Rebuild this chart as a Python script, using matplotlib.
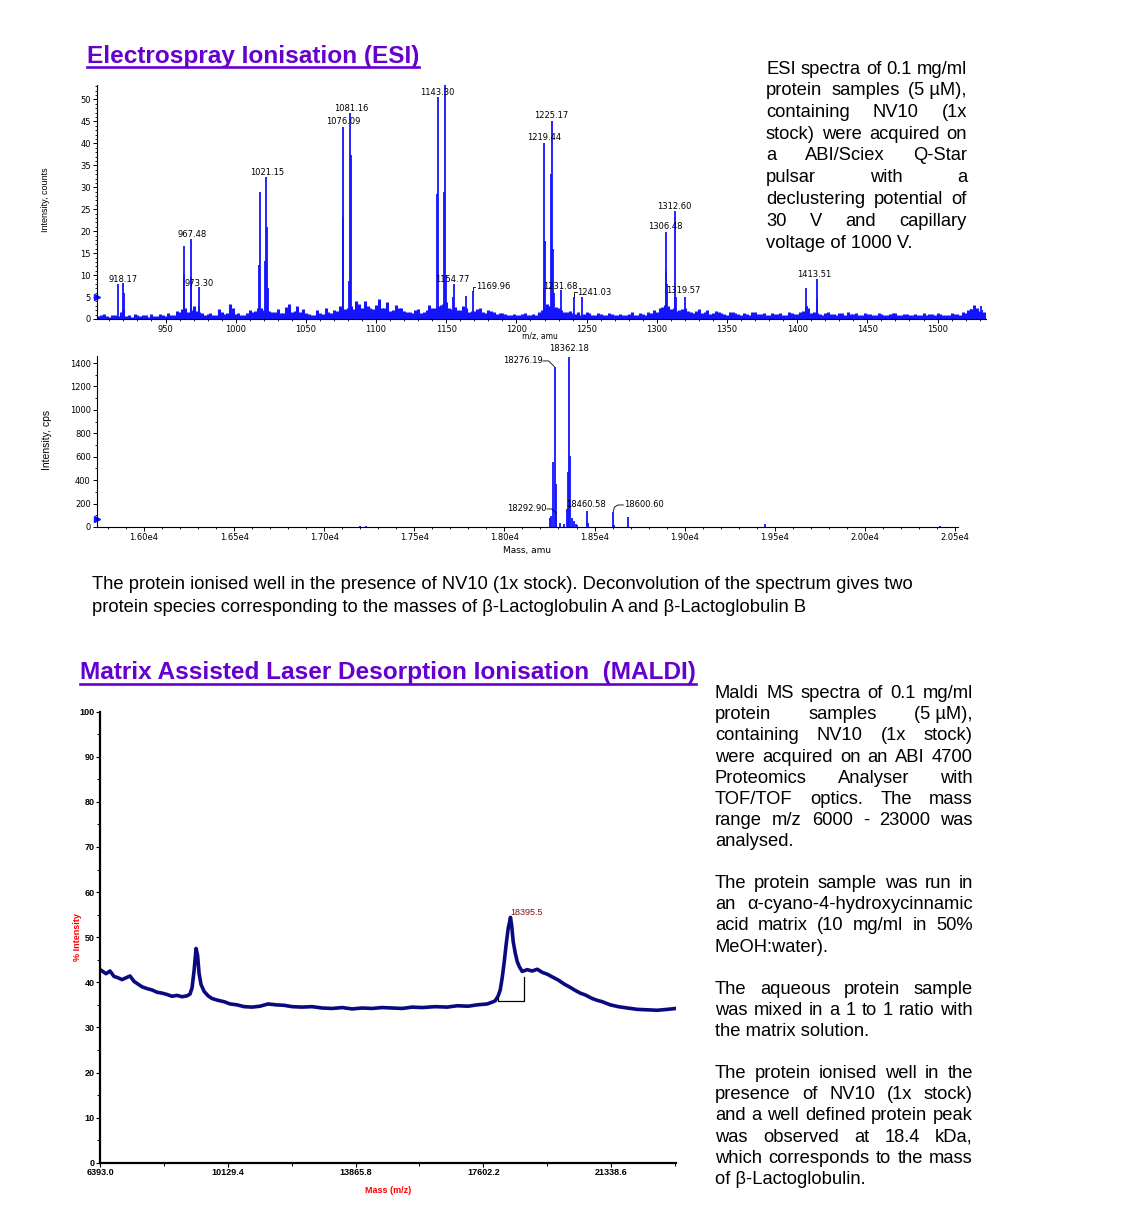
import numpy as np
import matplotlib.pyplot as plt

W, H = 1125, 1223
plt.rcParams['font.family'] = ['Liberation Sans', 'DejaVu Sans']

BLUE = '#1414FF'
NAVY = '#0A0A80'
PURPLE = '#6600CC'

# ---------------- ESI raw spectrum (m/z, counts) ----------------
esi_peak_mz = [916.0, 919.9, 920.4,
               962.9, 963.3, 967.9, 968.3, 973.6, 974.0,
               1016.9, 1017.3, 1021.0, 1021.8, 1022.3, 1022.8,
               1076.2, 1076.6, 1080.9, 1081.6, 1082.1,
               1143.6, 1144.2, 1148.6, 1149.2, 1149.6, 1154.9, 1155.6, 1164.4, 1169.2,
               1219.3, 1219.8, 1220.2, 1224.9, 1225.6, 1226.0, 1226.5, 1231.8, 1241.2, 1247.0,
               1306.3, 1306.8, 1307.3, 1312.6, 1313.1, 1313.6, 1319.9,
               1406.6, 1407.0, 1413.8, 1414.2, 1524.0, 1531.0, 1532.0]
esi_peak_int = [8.0, 8.2, 6.0,
                16.6, 10.3, 18.2, 9.5, 7.2, 3.0,
                12.4, 29.0, 13.3, 32.4, 21.0, 7.0,
                23.3, 43.8, 8.7, 47.0, 37.4,
                28.4, 50.5, 29.0, 55.0, 10.0, 5.0, 8.0, 5.2, 6.3,
                7.0, 40.0, 17.7, 33.0, 45.2, 16.0, 6.0, 6.5, 5.0, 5.0,
                10.9, 19.9, 8.0, 4.9, 24.5, 5.0, 5.0,
                7.0, 3.0, 9.0, 4.5, 2.2, 3.0, 2.0]
# baseline noise read every 4 m/z (two interleaved series)
esi_noise_mz = np.arange(900, 1537, 4)
esi_noise = [2.5, 0.8, 0.6, 1.0, 0.7, 2.2, 0.9, 1.2, 0.6, 0.8, 1.1, 0.6, 0.9, 1.4, 0.8,
             1.6, 2.5, 2.0, 1.8, 1.4, 1.2, 1.0, 2.2, 1.1, 3.5, 1.2,
             1.0, 1.3, 1.5, 2.4, 2.0, 1.8, 1.5, 1.4, 2.8, 1.6, 3.0, 2.2,
             1.2, 1.0, 1.4, 2.6, 1.3, 1.8,
             2.8, 2.5, 2.2, 3.5, 4.0, 2.6, 3.2, 2.4, 3.8, 2.0, 2.5,
             1.8, 1.5, 2.0, 1.4, 2.0, 2.6,
             3.0, 3.5, 2.5, 2.8, 2.0, 2.4, 1.8, 2.2, 1.6, 2.0, 1.5, 1.3, 1.1, 1.0,
             1.0, 1.2, 0.8, 1.1, 1.5, 2.5, 3.0, 2.8, 2.0, 1.6, 1.4, 1.6, 1.2, 1.3, 1.0,
             1.1, 0.9, 1.2, 1.0, 0.8, 1.1, 0.9, 1.3, 1.0, 1.4,
             1.6, 2.8, 3.0, 2.4, 2.0, 2.6, 1.6, 1.8, 1.4, 2.0, 1.3, 1.5, 1.2, 1.6, 1.4,
             1.0, 1.2, 1.5, 1.1, 1.3, 0.9, 1.2, 1.4, 1.0, 1.3,
             1.2, 1.8, 2.4, 1.6, 1.1, 1.4, 1.2, 1.0, 1.3, 1.5, 1.2, 1.0, 1.4, 1.1, 0.9,
             1.2, 1.0, 1.3, 0.8, 1.1, 0.9, 1.2, 1.0, 0.8, 1.1, 1.3, 0.9, 1.0, 1.2, 0.9,
             1.4, 2.2, 2.6, 1.6, 1.2]
esi_noise2_mz = np.arange(902, 1535, 4)
esi_noise2 = [0.6, 1.2, 0.5, 0.9, 1.6, 0.7, 0.5, 1.0, 0.9, 0.5, 0.7, 1.1, 0.6, 1.0, 1.8,
              2.2, 1.5, 3.0, 1.6, 1.0, 1.4, 0.8, 1.6, 1.3, 2.6,
              1.4, 1.0, 2.0, 1.8, 2.6, 1.2, 1.7, 2.2, 1.3, 3.4, 1.8, 1.5,
              1.4, 1.0, 2.0, 1.2, 1.6, 2.0, 3.0,
              2.2, 3.0, 4.2, 2.4, 3.0, 2.2, 4.6, 2.6, 1.8, 3.2,
              2.4, 1.6, 1.3, 2.2, 1.5, 3.2,
              2.6, 3.2, 3.8, 2.2, 2.0, 3.0, 1.6, 1.9, 2.6, 1.4, 1.8, 1.2, 1.4, 0.9, 1.2,
              0.8, 1.4, 1.0, 0.9, 2.0, 3.5, 2.4, 2.6, 1.5, 1.8, 1.2, 1.0, 1.5, 0.8, 1.3,
              1.0, 1.4, 0.8, 1.2, 1.0, 1.5, 0.8, 1.1, 1.6, 2.0,
              2.4, 3.2, 2.2, 1.8, 2.2, 1.8, 1.4, 2.2, 1.6, 1.2, 1.8, 1.4, 1.0, 1.7, 1.2,
              1.4, 1.0, 1.6, 1.2, 1.0, 1.4, 1.1, 0.9, 1.5, 1.1,
              1.5, 2.8, 1.4, 1.3, 1.0, 1.6, 1.1, 1.4, 0.9, 1.2, 1.3, 0.9, 1.2, 1.0, 1.3,
              0.8, 1.1, 1.4, 1.0, 1.2, 0.8, 1.0, 1.3, 1.1, 0.9, 1.2, 1.0, 1.4, 1.1, 1.6,
              2.0, 3.2, 1.8, 1.5]
esi_lab_text = ['918.17', '967.48', '973.30', '1021.15', '1076.09', '1081.16', '1143.30',
                '1154.77', '1219.44', '1225.17', '1231.68', '1306.48', '1312.60',
                '1319.57', '1413.51']
esi_lab_x = [919.7, 968.8, 973.8, 1022.5, 1076.6, 1082.0, 1143.5,
             1154.2, 1219.7, 1224.7, 1231.4, 1305.8, 1312.2, 1318.6, 1412.2]
esi_lab_y = [9.0, 19.3, 8.2, 33.3, 44.9, 48.0, 51.5,
             9.1, 41.4, 46.3, 7.35, 21.0, 25.6, 6.4, 10.2]

# ---------------- Deconvoluted spectrum (mass, cps) ----------------
dec_mass = [17200, 17230, 18255, 18261, 18271, 18278, 18284, 18288, 18310, 18328, 18348,
            18354, 18360, 18364, 18374, 18384, 18397, 18403, 18457, 18463,
            18604, 18608, 18685, 19444, 20416]
dec_int = [8, 6, 80, 94, 556, 1364, 365, 114, 37, 28, 151,
           471, 1455, 608, 80, 51, 28, 15, 137, 30,
           131, 20, 88, 23, 9]

# ---------------- MALDI spectrum (m/z, % intensity) ----------------
maldi_mz = [6400, 6569, 6686, 6803, 6920, 7037, 7154, 7271, 7388, 7505, 7622, 7768, 7914,
            8060, 8207, 8353, 8499, 8646, 8792, 8938, 9026, 9085, 9143, 9202, 9246, 9290,
            9348, 9436, 9553, 9670, 9845, 10021, 10196, 10401, 10606, 10840, 11074, 11308,
            11542, 11776, 12010, 12303, 12595, 12888, 13181, 13473, 13766, 14058, 14351,
            14643, 14936, 15229, 15521, 15814, 16194, 16545, 16838, 17160, 17424, 17716,
            17862, 17949, 18037, 18096, 18154, 18213, 18271, 18330, 18374, 18395.5, 18432,
            18476, 18535, 18593, 18652, 18739, 18886, 19032, 19179, 19325, 19471, 19617,
            19793, 19968, 20114, 20290, 20436, 20582, 20787, 20933, 21079, 21313, 21548,
            21811, 22104, 22397, 22690, 22982, 23230]
maldi_int = [42.8, 41.9, 42.5, 41.3, 41.0, 40.6, 41.0, 41.4, 40.2, 39.6, 39.0, 38.6, 38.3,
             37.8, 37.6, 37.3, 36.9, 37.1, 36.8, 37.0, 37.4, 38.8, 42.5, 47.5, 46.0, 42.0,
             39.5, 38.0, 37.0, 36.4, 36.0, 35.7, 35.2, 35.0, 34.6, 34.5, 34.7, 35.2,
             35.0, 34.9, 34.6, 34.5, 34.6, 34.3, 34.2, 34.4, 34.1, 34.3, 34.2,
             34.4, 34.3, 34.2, 34.5, 34.4, 34.6, 34.5, 34.8, 34.7, 35.0, 35.2,
             35.6, 35.9, 37.0, 38.3, 41.0, 44.5, 48.5, 52.0, 53.5, 54.4, 52.5,
             49.0, 46.5, 44.6, 43.5, 42.4, 42.8, 42.5, 42.9, 42.2, 41.8, 41.2,
             40.5, 39.6, 39.0, 38.2, 37.6, 37.2, 36.4, 36.0, 35.7, 35.0, 34.6,
             34.3, 34.0, 33.9, 33.8, 34.0, 34.2]
maldi_ticks = [6393.0, 10129.4, 13865.8, 17602.2, 21338.6]

# '\u00a0' keeps "5 µM" together when lines are justified
esi_text = [("ESI spectra of 0.1 mg/ml", True),
            ("protein samples (5\u00a0µM),", True),
            ("containing NV10 (1x", True),
            ("stock) were acquired on", True),
            ("a ABI/Sciex Q-Star", True),
            ("pulsar with a", True),
            ("declustering potential of", True),
            ("30 V and capillary", True),
            ("voltage of 1000 V.", False)]
esi_para = ["The protein ionised well in the presence of NV10 (1x stock). Deconvolution of the spectrum gives two",
            "protein species corresponding to the masses of β-Lactoglobulin A and β-Lactoglobulin B"]
maldi_text = [[("Maldi MS spectra of 0.1 mg/ml", True),
               ("protein samples (5\u00a0µM),", True),
               ("containing NV10 (1x stock)", True),
               ("were acquired on an ABI 4700", True),
               ("Proteomics Analyser with", True),
               ("TOF/TOF optics. The mass", True),
               ("range m/z 6000 - 23000 was", True),
               ("analysed.", False)],
              [("The protein sample was run in", True),
               ("an α-cyano-4-hydroxycinnamic", True),
               ("acid matrix (10 mg/ml in 50%", True),
               ("MeOH:water).", False)],
              [("The aqueous protein sample", True),
               ("was mixed in a 1 to 1 ratio with", True),
               ("the matrix solution.", False)],
              [("The protein ionised well in the", True),
               ("presence of NV10 (1x stock)", True),
               ("and a well defined protein peak", True),
               ("was observed at 18.4 kDa,", True),
               ("which corresponds to the mass", True),
               ("of β-Lactoglobulin.", False)]]
maldi_para_top = [698, 888, 994, 1078]


def fx(x):
    return x / W


def fy(y):
    return 1 - y / H


def box(l, t, r, b):
    return [fx(l), fy(b), (r - l) / W, (b - t) / H]


fig = plt.figure(figsize=(W / 100, H / 100), dpi=100)
renderer = fig.canvas.get_renderer()
BODY = 13.2


def text_line(s, x0, x1, y, justify):
    if not justify:
        fig.text(fx(x0), fy(y), s, fontsize=BODY, ha='left', va='baseline')
        return
    words = [w for w in s.split(' ') if w]
    objs = [fig.text(0, 0, w, fontsize=BODY, ha='left', va='baseline') for w in words]
    widths = [o.get_window_extent(renderer).width for o in objs]
    gap = (x1 - x0 - sum(widths)) / (len(words) - 1)
    x = x0
    for o, w in zip(objs, widths):
        o.set_position((fx(x), fy(y)))
        x += w + gap


def heading(s, x, y, uy):
    t = fig.text(fx(x), fy(y), s, fontsize=17.6, fontweight='bold', color=PURPLE,
                 ha='left', va='baseline')
    w = t.get_window_extent(renderer).width
    fig.add_artist(plt.Line2D([fx(x), fx(x + w)], [fy(uy), fy(uy)], color=PURPLE, lw=1.9))


# ---------------- ESI raw spectrum ----------------
ax1 = fig.add_axes(box(97, 85, 986, 319))
ax1.vlines(esi_noise_mz, 0, esi_noise, color=BLUE, lw=2.2)
ax1.vlines(esi_noise2_mz, 0, esi_noise2, color=BLUE, lw=2.2)
ax1.vlines(esi_peak_mz, 0, esi_peak_int, color=BLUE, lw=1.3)
ax1.set_xlim(901.2, 1534.5)
ax1.set_ylim(0, 53.3)
ax1.set_xticks(np.arange(950, 1501, 50))
ax1.set_xticks(np.arange(910, 1531, 10), minor=True)
ax1.set_yticks(np.arange(0, 51, 5))
ax1.set_yticks(np.arange(0, 54, 1), minor=True)
for t, x, y in zip(esi_lab_text, esi_lab_x, esi_lab_y):
    ax1.text(x, y, t, ha='center', va='center', fontsize=6, family='DejaVu Sans')
ax1.plot([1169.2, 1169.2, 1170.8], [6.3, 7.35, 7.35], color='k', lw=0.6)
ax1.text(1171.0, 7.35, '1169.96', ha='left', va='center', fontsize=6, family='DejaVu Sans')
ax1.plot([1241.2, 1241.2, 1242.8], [5.0, 6.1, 6.1], color='k', lw=0.6)
ax1.text(1243.0, 6.1, '1241.03', ha='left', va='center', fontsize=6, family='DejaVu Sans')
ax1.plot([901.2], [5], marker='>', color=BLUE, ms=5, clip_on=False)
ax1.text(1217, -4.0, 'm/z, amu', ha='center', va='center', fontsize=5.5,
         family='DejaVu Sans', clip_on=False)

# ---------------- Deconvoluted spectrum ----------------
ax2 = fig.add_axes(box(97, 356, 958, 527))
ax2.vlines(dec_mass, 0, dec_int, color=BLUE, lw=1.3)
ax2.set_xlim(15739, 20517)
ax2.set_ylim(0, 1460)
ax2.set_xticks(np.arange(16000, 20501, 500))
ax2.set_xticklabels(['%.2fe4' % (v / 1e4) for v in np.arange(16000, 20501, 500)])
ax2.set_xticks(np.arange(15800, 20501, 100), minor=True)
ax2.set_yticks(np.arange(0, 1401, 200))
ax2.set_yticks(np.arange(0, 1460, 100), minor=True)
ax2.text(18360, 1520, '18362.18', ha='center', va='center', fontsize=6, family='DejaVu Sans', clip_on=False)
ax2.text(18212, 1418, '18276.19', ha='right', va='center', fontsize=6, family='DejaVu Sans')
ax2.plot([18214, 18245, 18277], [1418, 1418, 1370], color='k', lw=0.6)
ax2.text(18234, 154, '18292.90', ha='right', va='center', fontsize=6, family='DejaVu Sans')
ax2.plot([18236, 18262, 18288], [154, 154, 118], color='k', lw=0.6)
ax2.text(18455, 196, '18460.58', ha='center', va='center', fontsize=6, family='DejaVu Sans')
ax2.plot([18604, 18610, 18630, 18660], [131, 170, 188, 188], color='k', lw=0.6)
ax2.text(18663, 188, '18600.60', ha='left', va='center', fontsize=6, family='DejaVu Sans')
ax2.plot([15739], [68], marker='>', color=BLUE, ms=5, clip_on=False)
ax2.set_xlabel('Mass, amu', fontsize=6.5, family='DejaVu Sans', labelpad=3)

for ax in (ax1, ax2):
    for s in ('top', 'right'):
        ax.spines[s].set_visible(False)
    ax.spines['left'].set_linewidth(0.8)
    ax.spines['bottom'].set_linewidth(0.8)
    ax.tick_params(which='major', length=3, width=0.7, labelsize=6, pad=1.5)
    ax.tick_params(which='minor', length=1.5, width=0.6)
    for lab in ax.get_xticklabels() + ax.get_yticklabels():
        lab.set_family('DejaVu Sans')

fig.text(fx(46), fy(200), 'Intensity, counts', rotation=90, fontsize=6.5, ha='center', va='center')
fig.text(fx(47), fy(440), 'Intensity, cps', rotation=90, fontsize=7.5, ha='center', va='center')

# ---------------- MALDI spectrum ----------------
ax3 = fig.add_axes(box(100, 711.7, 676, 1162.7))
ax3.plot(maldi_mz, maldi_int, color=NAVY, lw=2.6)
ax3.plot([18037, 18037, 18789, 18789], [36.6, 35.9, 35.9, 41.2], color='k', lw=0.9)
ax3.text(18395.5, 55.4, '18395.5', color='#8B1010', fontsize=6.5, ha='left', va='center')
ax3.set_xlim(6393, 23236)
ax3.set_ylim(0, 100)
ax3.set_xticks(maldi_ticks)
ax3.set_xticklabels(['%.1f' % v for v in maldi_ticks])
ax3.set_xticks([v + 1868.2 for v in maldi_ticks], minor=True)
ax3.set_yticks(np.arange(0, 101, 10))
ax3.set_yticks(np.arange(5, 100, 10), minor=True)
for s in ('top', 'right'):
    ax3.spines[s].set_visible(False)
ax3.spines['left'].set_linewidth(1.6)
ax3.spines['bottom'].set_linewidth(1.6)
ax3.tick_params(which='major', length=3, width=0.8, labelsize=6.5, pad=1)
ax3.tick_params(which='minor', length=2, width=0.7)
for lab in ax3.get_xticklabels() + ax3.get_yticklabels():
    lab.set_fontweight('bold')
ax3.set_xlabel('Mass (m/z)', color='red', fontsize=6.5, fontweight='bold', labelpad=6)
fig.text(fx(77), fy(937), '% Intensity', rotation=90, color='red', fontsize=6.5,
         fontweight='bold', ha='center', va='center')

# ---------------- Text ----------------
heading('Electrospray Ionisation (ESI)', 87, 62.5, 66.5)
heading('Matrix Assisted Laser Desorption Ionisation  (MALDI)', 80, 679.5, 683.5)

for i, (s, j) in enumerate(esi_text):
    text_line(s, 766, 967, 73.5 + 21.75 * i, j)

fig.text(fx(92), fy(589), esi_para[0], fontsize=BODY, ha='left', va='baseline')
fig.text(fx(92), fy(612), esi_para[1], fontsize=BODY, ha='left', va='baseline')

for top, para in zip(maldi_para_top, maldi_text):
    for i, (s, j) in enumerate(para):
        text_line(s, 715, 973, top + 21.2 * i, j)

fig.savefig('out.png', dpi=100)
